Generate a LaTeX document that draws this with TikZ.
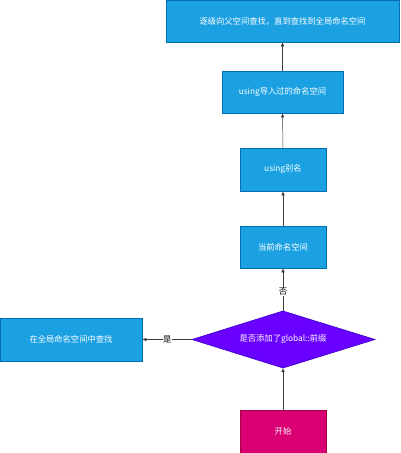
\documentclass[tikz,border=0pt]{standalone}
\usepackage{fontspec}
\newfontfamily\cjk{Noto Sans CJK SC}
\usetikzlibrary{arrows.meta}
\begin{document}
\begin{tikzpicture}[x=1pt,y=-1pt,
  txt/.style={text=white, font=\cjk\fontsize{8.3}{10}\selectfont, inner sep=0pt},
  bluebox/.style={txt, draw={rgb,255:red,0;green,110;blue,175}, fill={rgb,255:red,27;green,161;blue,226}, line width=0.6pt},
  pinkbox/.style={txt, draw={rgb,255:red,165;green,0;blue,64}, fill={rgb,255:red,216;green,0;blue,115}, line width=0.6pt},
  decision/.style={draw={rgb,255:red,55;green,0;blue,204}, fill={rgb,255:red,106;green,0;blue,255}, line width=0.6pt},
  conn/.style={draw={rgb,255:red,60;green,60;blue,60}, line width=0.5pt, -{Latex[length=4pt,width=3.5pt]}},
  lbl/.style={fill=white, font=\cjk\fontsize{8.3}{10}\selectfont, inner sep=0.5pt}
]
\useasboundingbox (0,0) rectangle (400,453);
\node[bluebox, minimum width=233pt, minimum height=42pt] (top) at (282.5,21) {逐级向父空间查找，直到查找到全局命名空间};
\node[bluebox, minimum width=121pt, minimum height=42pt] (using) at (282.5,92) {using导入过的命名空间};
\node[bluebox, minimum width=86pt, minimum height=43pt] (alias) at (283,169.5) {using别名};
\node[bluebox, minimum width=86pt, minimum height=42pt] (cur) at (283,247) {当前命名空间};
\node[bluebox, minimum width=142pt, minimum height=43pt] (glob) at (71,339.5) {在全局命名空间中查找};
\path (192,339.5) coordinate (dl) (375,339.5) coordinate (dr) (283,311) coordinate (dt) (283,368) coordinate (db);
\draw[decision] (dl) -- (dt) -- (dr) -- (db) -- cycle;
\node[txt] (dec) at (283,339.5) {是否添加了global::前缀};
\node[pinkbox, minimum width=86pt, minimum height=43pt] (start) at (283,431.5) {开始};
\draw[conn] (start.north) -- (db);
\draw[conn] (dt) -- node[lbl, pos=0.45] {否} (cur.south);
\draw[conn] (cur.north) -- (alias.south);
\draw[conn] (alias.north) -- (using.south);
\draw[conn] (using.north) -- (top.south);
\draw[conn] (dl) -- node[lbl, pos=0.5] {是} (glob.east);
\end{tikzpicture}
\end{document}
